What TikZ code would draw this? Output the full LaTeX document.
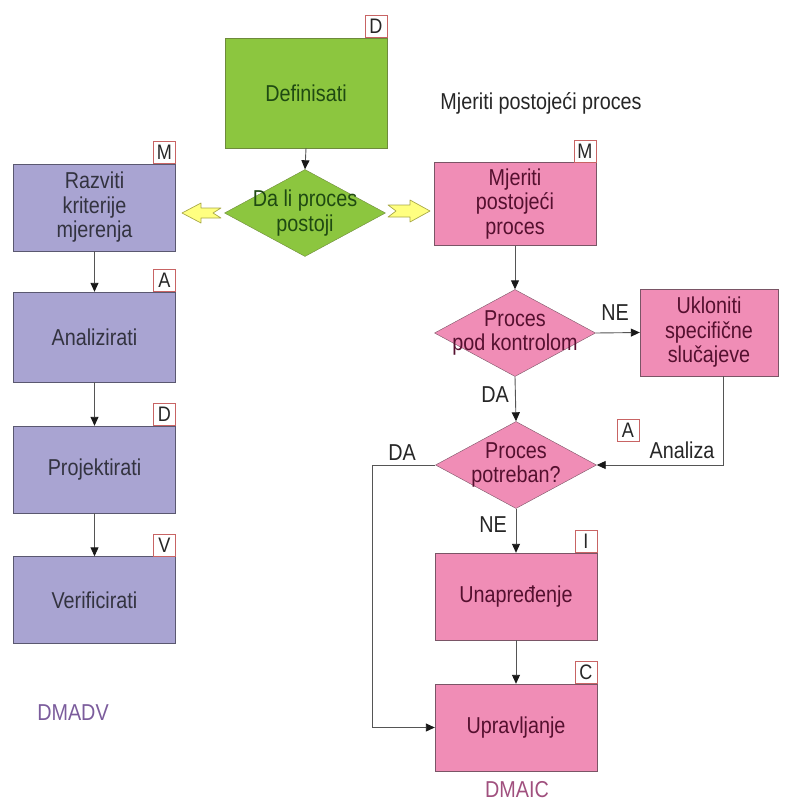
\documentclass[tikz,border=0pt]{standalone}
\usepackage{fontspec}
\setmainfont{Liberation Sans}[FakeStretch=0.86]
\usetikzlibrary{shapes.geometric,arrows.meta}
\definecolor{gfill}{HTML}{8CC63F}
\definecolor{gbord}{HTML}{6E8A3C}
\definecolor{gtext}{HTML}{1F4A12}
\definecolor{lfill}{HTML}{A9A4D2}
\definecolor{lbord}{HTML}{5A5870}
\definecolor{ltext}{HTML}{333340}
\definecolor{pfill}{HTML}{F08DB6}
\definecolor{pbord}{HTML}{7A5566}
\definecolor{ptext}{HTML}{55102F}
\definecolor{tagred}{HTML}{C86464}
\definecolor{linec}{HTML}{555555}
\definecolor{yfill}{HTML}{FFFF80}
\definecolor{ybord}{HTML}{A8A848}
\definecolor{madv}{HTML}{7B5C9C}
\definecolor{maic}{HTML}{A0507E}
\begin{document}
\begin{tikzpicture}[x=1pt,y=-1pt,
  txt/.style={font=\fontsize{23}{24.5}\selectfont, align=center},
  gbox/.style={txt, draw=gbord, fill=gfill, text=gtext, inner sep=0pt, minimum width=162pt, minimum height=110pt},
  lbox/.style={txt, draw=lbord, fill=lfill, text=ltext, inner sep=0pt, minimum width=162pt, minimum height=87pt},
  pbox/.style={txt, draw=pbord, fill=pfill, text=ptext, inner sep=0pt, minimum width=162pt, minimum height=87pt},
  dia/.style={diamond, draw=#1, inner sep=0pt, minimum width=161pt, minimum height=87pt},
  tag/.style={draw=tagred, fill=white, text=black!85, inner sep=0pt, minimum width=22pt, minimum height=22pt, anchor=south east, font=\fontsize{21}{21}\selectfont},
  conn/.style={draw=linec, line width=0.9pt, -{Triangle[width=8pt,length=9pt,color=black!90]}},
  lab/.style={txt, text=black!85},
  yarrow/.style={draw=ybord, fill=yfill, line width=0.7pt, line join=round}
]
\useasboundingbox (0,0) rectangle (792,803);

% top
\node[gbox] (dfn) at (306,93) {Definisati};
\node[tag] (tD0) at (dfn.north east) {D};
\node[dia=gbord, fill=gfill] (q1) at (305,213) {};
\node[txt, text=gtext] (q1t) at (q1) {Da li proces\\postoji};
\node[lab] (hdr) at (541,103) {Mjeriti postoje\'{c}i proces};

% left column
\node[lbox] (raz) at (94.5,207.5) {Razviti\\kriterije\\mjerenja};
\node[tag] (tM1) at (raz.north east) {M};
\node[lbox, minimum height=90pt] (ana) at (94.5,337) {Analizirati};
\node[tag] (tA1) at (ana.north east) {A};
\node[lbox] (pro) at (94.5,469.5) {Projektirati};
\node[tag] (tD1) at (pro.north east) {D};
\node[lbox] (ver) at (94.5,600) {Verificirati};
\node[tag] (tV1) at (ver.north east) {V};
\node[txt, text=madv] (dmadv) at (73,713) {DMADV};

% right column
\node[pbox, minimum height=83pt] (mje) at (515,204) {Mjeriti\\postoje\'{c}i\\proces};
\node[tag] (tM2) at (mje.north east) {M};
\node[dia=pbord, fill=pfill] (q2) at (515,333) {};
\node[txt, text=ptext] (q2t) at (q2) {Proces\\pod kontrolom};
\node[pbox, minimum width=138pt] (ukl) at (709,332.5) {Ukloniti\\specifi\v{c}ne\\slu\v{c}ajeve};
\node[dia=pbord, fill=pfill] (q3) at (516,465) {};
\node[txt, text=ptext] (q3t) at (q3) {Proces\\potreban?};
\node[tag, anchor=center] (tA2) at (628,430) {A};
\node[pbox] (una) at (516,596.5) {Unapre\dj enje};
\node[tag] (tI) at (una.north east) {I};
\node[pbox] (upr) at (516,727.5) {Upravljanje};
\node[tag] (tC) at (upr.north east) {C};
\node[txt, text=maic, inner sep=0pt] (dmaic) at (517,790) {DMAIC};

% labels
\node[lab] (ne1) at (615,313) {NE};
\node[lab] (da1) at (495,395) {DA};
\node[lab] (ana2) at (682,450) {Analiza};
\node[lab] (da2) at (402,453) {DA};
\node[lab] (ne2) at (493,525) {NE};

% connectors
\draw[conn] (dfn.south) -- (q1.north);
\draw[conn] (raz.south) -- (ana.north);
\draw[conn] (ana.south) -- (pro.north);
\draw[conn] (pro.south) -- (ver.north);
\draw[conn] (mje.south) -- (q2.north);
\draw[conn] (q2.east) -- (ukl.west);
\draw[conn] (q2.south) -- (q3.north);
\draw[conn] ([xshift=14pt]ukl.south) |- (q3.east);
\draw[conn] (q3.south) -- (una.north);
\draw[conn] (una.south) -- (upr.north);
\draw[conn] (q3.west) -- ++(-63,0) |- (upr.west);

% yellow arrows
\draw[yarrow] (182,213) -- (201,203) -- (201,208) -- (221,208) -- (213,213) -- (221,218) -- (201,218) -- (201,223) -- cycle;
\draw[yarrow] (388,205) -- (410,205) -- (410,200) -- (430,211) -- (410,222) -- (410,217) -- (388,217) -- (396,211) -- cycle;
\end{tikzpicture}
\end{document}
